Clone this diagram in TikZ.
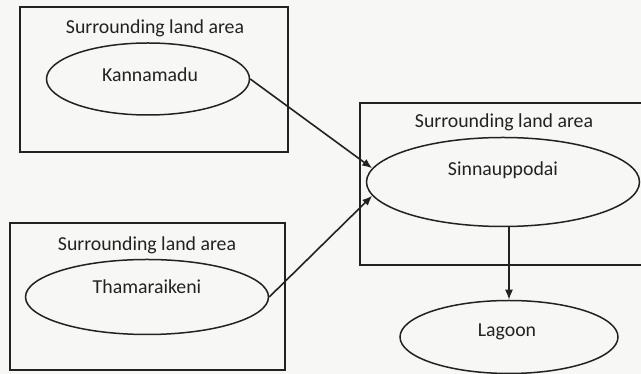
\documentclass[tikz,border=0pt]{standalone}
\usepackage{fontspec}
\setmainfont{Carlito}
\usetikzlibrary{shapes.geometric,arrows.meta}
\definecolor{ink}{HTML}{222222}
\definecolor{paper}{HTML}{F7F7F5}
\tikzset{
  landbox/.style={draw=ink, line width=1.3pt},
  site/.style={ellipse, draw=ink, line width=1.5pt, inner sep=0pt},
  lbl/.style={text=ink, font=\fontsize{19.8}{22}\selectfont, inner sep=0pt},
  flow/.style={draw=ink, line width=1.6pt, -{Latex[length=10pt,width=8pt]}}
}
\begin{document}
\begin{tikzpicture}[x=1pt,y=1pt]
\useasboundingbox (0,0) rectangle (641,374);
\fill[paper] (0,0) rectangle (641,374);
\clip (0,0) rectangle (641,374);
% boxes
\draw[landbox] (20,367) rectangle (288,222);
\draw[landbox] (10,151) rectangle (285,4);
\draw[landbox] (360,271) rectangle (660,109);
% box captions
\node[lbl] (c1) at (155,346) {Surrounding land area};
\node[lbl] (c2) at (504,252) {Surrounding land area};
\node[lbl] (c3) at (147,129) {Surrounding land area};
% ellipses
\node[site, minimum width=203pt, minimum height=72pt] (k) at (148,295) {};
\node[site, minimum width=243pt, minimum height=75pt] (t) at (147,77) {};
\node[site, minimum width=273pt, minimum height=89pt] (s) at (503,192) {};
\node[site, minimum width=218pt, minimum height=73pt] (l) at (509,37) {};
% ellipse texts
\node[lbl] (kt) at (150,299) {Kannamadu};
\node[lbl] (tt) at (147,87) {Thamaraikeni};
\node[lbl] (st) at (503,204) {Sinnauppodai};
\node[lbl] (lt) at (507,42) {Lagoon};
% connectors
\draw[flow] (k.east) -- (s.174);
\draw[flow] (t.east) -- (s.186);
\draw[flow] (l.north |- s.south) -- (l.north);
\end{tikzpicture}
\end{document}
